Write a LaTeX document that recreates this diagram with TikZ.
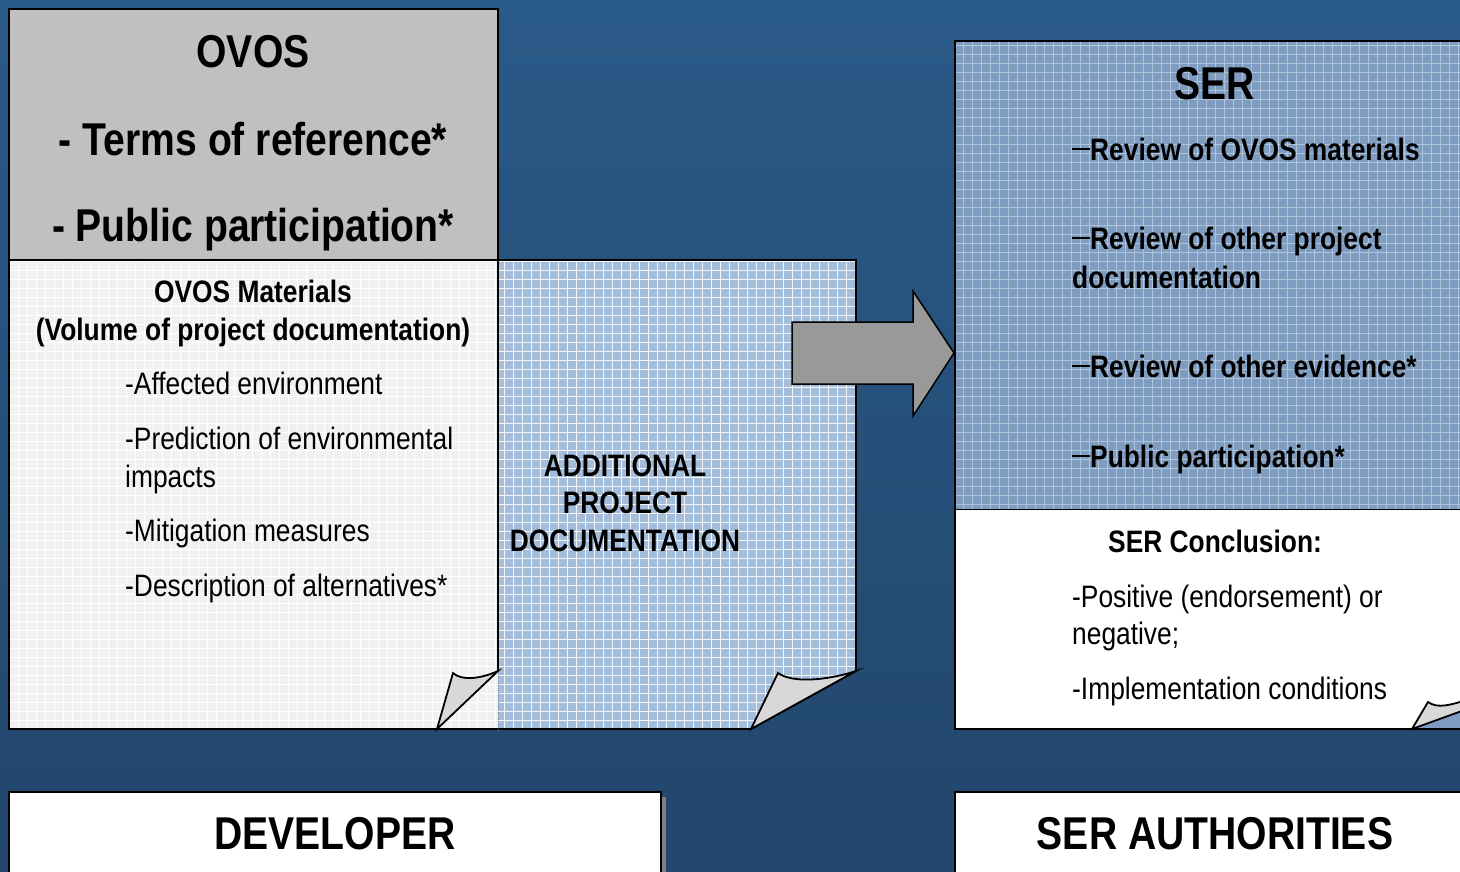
\documentclass[tikz,border=0pt]{standalone}
\usepackage{fontspec}
\setmainfont{Liberation Sans}[FakeStretch=0.85]
\usetikzlibrary{positioning}

\definecolor{bgtop}{HTML}{2A5A88}
\definecolor{bgmid}{HTML}{2F68A0}
\definecolor{bgbot}{HTML}{22466C}
\definecolor{ovosgray}{HTML}{C0C0C0}
\definecolor{pagewhite}{HTML}{F1F1F1}
\definecolor{addblue}{HTML}{A4BDDA}
\definecolor{serblue}{HTML}{7E9DC1}
\definecolor{serline}{HTML}{AFC3DA}
\definecolor{foldgray}{HTML}{D8D8D8}
\definecolor{arrowgray}{HTML}{999999}
\definecolor{shadowgray}{HTML}{7F7F7F}

\newcommand{\serdash}{\rule[10pt]{18pt}{1.6pt}}

\tikzset{
  bigtxt/.style={font=\fontsize{46}{50}\selectfont\bfseries, inner sep=0pt},
  midtxt/.style={font=\fontsize{31}{35}\selectfont\bfseries, inner sep=0pt},
  bodytxt/.style={font=\fontsize{31}{35}\selectfont, inner sep=0pt},
  pageline/.style={line width=1.8pt, line join=miter},
  gridline/.style={line width=0.8pt, step=9pt}
}

\begin{document}
\begin{tikzpicture}[x=1pt, y=-1pt]
\useasboundingbox (0,0) rectangle (1460,871);
\clip (0,0) rectangle (1460,871);
\shade[top color=bgtop, middle color=bgmid, bottom color=bgbot] (0,0) rectangle (1460,871);

	\draw[pageline, fill=ovosgray] (9,9) rectangle (498,260);

	\fill[pagewhite] (9,260) rectangle (498,729);
	\begin{scope}
		\clip (9,260) rectangle (498,729);
		\draw[gridline, white] (9,260) grid (498,729);
	\end{scope}

	\fill[addblue] (498,260) -- (856,260) -- (856,671) -- (751,729) -- (498,729) -- cycle;
	\begin{scope}
		\clip (498,260) -- (856,260) -- (856,671) -- (751,729) -- (498,729) -- cycle;
		\draw[gridline, white!85!addblue] (498,260) grid (856,729);
	\end{scope}

	\draw[pageline] (498,671) -- (498,260) -- (856,260) -- (856,671) -- (751,729) -- (9,729) -- (9,260) -- (498,260);
	\draw[gray, dotted, thin] (498,671) -- (498,729);

	\draw[pageline, fill=foldgray] (437,729) -- (453,673) .. controls (462,681) and (480,679) .. (498,671) -- cycle;
	\draw[pageline, fill=foldgray] (751,729) -- (778,673) .. controls (792,683) and (825,681) .. (856,671) -- cycle;

	\draw[line width=1.5pt, line join=miter, fill=arrowgray] (792,322) -- (913,322) -- (913,291) -- (954,353) -- (913,416) -- (913,384) -- (792,384) -- cycle;

	\fill[serblue] (955,41) rectangle (1470,510);
	\begin{scope}
		\clip (955,41) rectangle (1470,510);
		\draw[gridline, serline] (955,41) grid (1470,510);
	\end{scope}
	\draw[pageline] (1470,41) -- (955,41) -- (955,510) -- (1470,510);

	\fill[white] (955,510) rectangle (1470,729);
	\fill[serblue] (1412,729) -- (1470,708) -- (1470,729) -- cycle;
	\draw[pageline] (955,510) -- (955,729) -- (1470,729);
	\draw[pageline, fill=foldgray] (1412,729) -- (1428,702) .. controls (1438,709) and (1450,705) .. (1470,699) -- (1470,708) -- cycle;

	\fill[shadowgray] (13,797) rectangle (666,880);
	\draw[pageline, fill=white] (9,792) rectangle (661,880);
	\draw[pageline, fill=white] (955,792) rectangle (1470,880);

	\node[bigtxt, anchor=base] (ovos) at (253,67) {OVOS};
	\node[bigtxt, anchor=base] (terms) at (253,155) {- Terms of reference*};
	\node[bigtxt, anchor=base] (pubpart) at (253,241) {- Public participation*};

	\node[midtxt, anchor=base] (materials) at (253,302) {OVOS Materials};
	\node[midtxt, anchor=base] (volume) at (253,340) {(Volume of project documentation)};
	\node[bodytxt, anchor=base west] (affected) at (125,394) {-Affected environment};
	\node[bodytxt, anchor=base west] (predict) at (125,449) {-Prediction of environmental};
	\node[bodytxt, anchor=base west] (impacts) at (125,487) {impacts};
	\node[bodytxt, anchor=base west] (mitigate) at (125,541) {-Mitigation measures};
	\node[bodytxt, anchor=base west] (altern) at (125,596) {-Description of alternatives*};

	\node[midtxt, anchor=base] (addone) at (625,476) {ADDITIONAL};
	\node[midtxt, anchor=base] (addtwo) at (625,513) {PROJECT};
	\node[midtxt, anchor=base] (addthree) at (625,551) {DOCUMENTATION};

	\node[bigtxt, anchor=base] (ser) at (1215,99) {SER};
	\node[midtxt, anchor=base west] (revovos) at (1072,160) {\serdash Review of OVOS materials};
	\node[midtxt, anchor=base west] (revproj) at (1072,249) {\serdash Review of other project};
	\node[midtxt, anchor=base west] (revdoc) at (1072,288) {documentation};
	\node[midtxt, anchor=base west] (revevid) at (1072,377) {\serdash Review of other evidence*};
	\node[midtxt, anchor=base west] (revpub) at (1072,467) {\serdash Public participation*};

	\node[midtxt, anchor=base west] (concl) at (1108,552) {SER Conclusion:};
	\node[bodytxt, anchor=base west] (positive) at (1072,607) {-Positive (endorsement) or};
	\node[bodytxt, anchor=base west] (negative) at (1072,644) {negative;};
	\node[bodytxt, anchor=base west] (implement) at (1072,699) {-Implementation conditions};

	\node[bigtxt, anchor=base] (developer) at (335,849) {DEVELOPER};
	\node[bigtxt, anchor=base] (authorities) at (1215,849) {SER AUTHORITIES};
\end{tikzpicture}
\end{document}
